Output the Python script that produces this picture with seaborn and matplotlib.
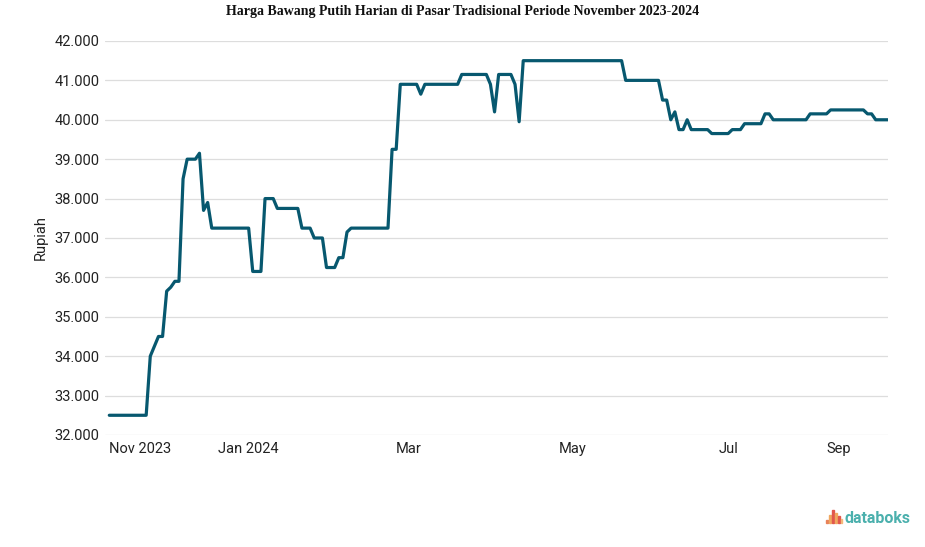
import numpy as np
import pandas as pd
import matplotlib
matplotlib.use("Agg")
import matplotlib.pyplot as plt
import matplotlib.ticker as mticker
from matplotlib.patches import Rectangle
import seaborn as sns

# harga harian (Rp/kg), dikelompokkan per bulan
nov_2023 = [32500, 32500, 32500, 32500, 32500, 32500, 32500, 32500, 32500, 32500,
            34000, 34250, 34500, 34500, 35650, 35750, 35900, 35900]
dec_2023 = [38500, 39000, 39000, 39000, 39150, 37700, 37900, 37250, 37250, 37250,
            37250, 37250, 37250, 37250, 37250, 37250]
jan_2024 = [37250, 36150, 36150, 36150, 38000, 38000, 38000, 37750, 37750, 37750,
            37750, 37750, 37750, 37250, 37250, 37250, 37000, 37000, 37000]
feb_2024 = [36250, 36250, 36250, 36500, 36500, 37150, 37250, 37250, 37250, 37250,
            37250, 37250, 37250, 37250, 37250, 37250, 39250, 39250, 40900, 40900]
mar_2024 = [40900, 40900, 40900, 40650, 40900, 40900, 40900, 40900, 40900, 40900,
            40900, 40900, 40900, 41150, 41150, 41150, 41150, 41150, 41150, 41150]
apr_2024 = [40900, 40200, 41150, 41150, 41150, 41150, 40900, 39950, 41500, 41500,
            41500, 41500, 41500, 41500, 41500, 41500, 41500, 41500, 41500, 41500]
may_2024 = [41500, 41500, 41500, 41500, 41500, 41500, 41500, 41500, 41500, 41500,
            41500, 41500, 41500, 41000, 41000, 41000, 41000, 41000, 41000]
jun_2024 = [41000, 41000, 41000, 40500, 40500, 40000, 40200, 39750, 39750, 40000,
            39750, 39750, 39750, 39750, 39750, 39650, 39650, 39650, 39650]
jul_2024 = [39650, 39750, 39750, 39750, 39900, 39900, 39900, 39900, 39900, 40150,
            40150, 40000, 40000, 40000]
aug_2024 = [40000, 40000, 40000, 40000, 40000, 40000, 40150, 40150, 40150, 40150,
            40150, 40250, 40250]
sep_2024 = [40250, 40250, 40250, 40250, 40250, 40250, 40250, 40150, 40150, 40000,
            40000, 40000, 40000]

months = [nov_2023, dec_2023, jan_2024, feb_2024, mar_2024, apr_2024,
          may_2024, jun_2024, jul_2024, aug_2024, sep_2024]
month_names = ["Nov 2023", "Dec", "Jan 2024", "Feb", "Mar", "Apr",
               "May", "Jun", "Jul", "Aug", "Sep"]
shown_labels = ["Nov 2023", "Jan 2024", "Mar", "May", "Jul", "Sep"]

rows = []
for name, vals in zip(month_names, months):
    for v in vals:
        rows.append({"bulan": name, "harga": v})
df = pd.DataFrame(rows)
df["idx"] = np.arange(len(df))

sns.set_style("white")
plt.rcParams["font.family"] = ["Roboto", "DejaVu Sans"]

fig = plt.figure(figsize=(9.25, 5.47), dpi=100)
ax = fig.add_axes([0.1135, 0.2048, 0.8465, 0.7203])

sns.lineplot(data=df, x="idx", y="harga", ax=ax, color="#07586f", linewidth=2.3)

ax.set_ylim(32000, 42000)
ax.set_xlim(-1.05, len(df) - 1)
ax.yaxis.set_major_locator(mticker.MultipleLocator(1000))
ax.yaxis.set_major_formatter(mticker.FuncFormatter(lambda v, p: f"{v:,.0f}".replace(",", ".")))
ax.grid(axis="y", color="#dddddd", linewidth=0.9)
ax.grid(axis="x", visible=False)
for s in ax.spines.values():
    s.set_visible(False)

# tick di data pertama tiap bulan yang ditampilkan
first_idx = df.groupby("bulan", sort=False)["idx"].min()
ax.set_xticks([first_idx[m] for m in shown_labels])
ax.set_xticklabels(shown_labels)
ax.tick_params(axis="both", length=0, labelsize=10.5, colors="#222222")
ax.tick_params(axis="x", pad=5)
ax.tick_params(axis="y", pad=4)
ax.get_xticklabels()[0].set_horizontalalignment("left")

ax.set_xlabel("")
ax.set_ylabel("Rupiah", fontsize=10.5, color="#222222", labelpad=5)

fig.text(0.5, 0.979, "Harga Bawang Putih Harian di Pasar Tradisional Periode November 2023-2024",
         ha="center", va="center", fontsize=10, fontweight="bold",
         family=["Liberation Serif", "DejaVu Serif"], color="#111111")

# logo databoks
fig.text(0.913, 0.052, "databoks", ha="left", va="center", fontsize=11.5,
         color="#4bb0ad", fontweight="bold")
bar_cols = ["#e8825a", "#f0a860", "#e2584d", "#f0a860", "#e2584d", "#f4b97a"]
bar_h = [0.006, 0.014, 0.024, 0.018, 0.012, 0.008]
for k, (c, h) in enumerate(zip(bar_cols, bar_h)):
    fig.patches.append(Rectangle((0.893 + k * 0.0032, 0.044), 0.0018, h,
                                 transform=fig.transFigure, color=c))

fig.savefig("out.png", dpi=100)
